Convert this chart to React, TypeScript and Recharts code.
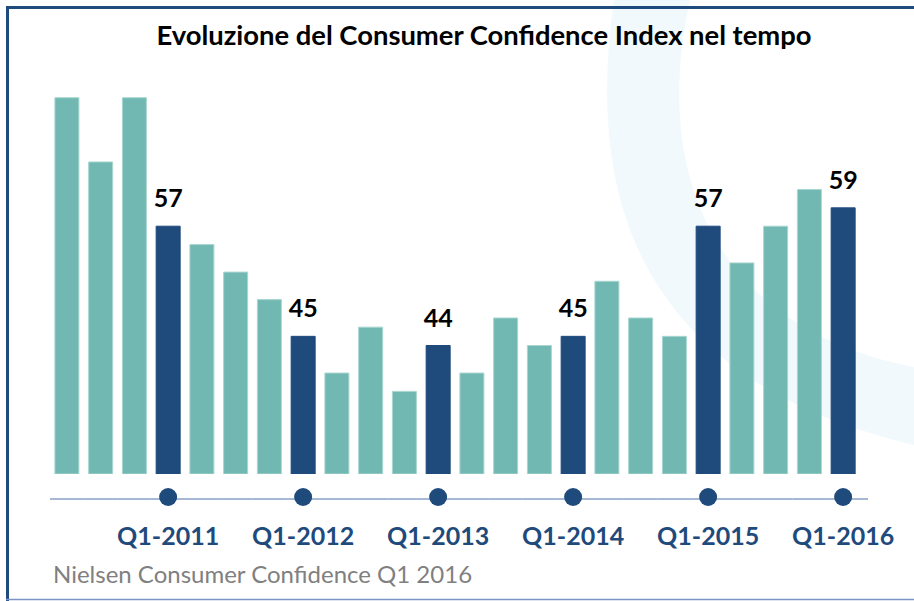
import React from "react";
import { BarChart, Bar, XAxis, YAxis, Cell, LabelList } from "recharts";

// trimestri da Q2-2010 a Q1-2016
const quarters = [
  "Q2-2010", "Q3-2010", "Q4-2010",
  "Q1-2011", "Q2-2011", "Q3-2011", "Q4-2011",
  "Q1-2012", "Q2-2012", "Q3-2012", "Q4-2012",
  "Q1-2013", "Q2-2013", "Q3-2013", "Q4-2013",
  "Q1-2014", "Q2-2014", "Q3-2014", "Q4-2014",
  "Q1-2015", "Q2-2015", "Q3-2015", "Q4-2015",
  "Q1-2016",
];

const cci = [
  71, 64, 71,
  57, 55, 52, 49,
  45, 41, 46, 39,
  44, 41, 47, 44,
  45, 51, 47, 45,
  57, 53, 57, 61,
  59,
];

const yDomain = [30, 75];

const TITLE = "Evoluzione del Consumer Confidence Index nel tempo";
const SOURCE = "Nielsen Consumer Confidence Q1 2016";

const DARK = "#1f4a7c";
const LIGHT = "#72b8b2";
const FONT = "Lato, 'Open Sans', sans-serif";

const W = 914;
const H = 601;
const LEFT = 50;
const RIGHT = 54;
const BAND = (W - LEFT - RIGHT) / quarters.length;

const data = quarters.map((q, i) => ({ q, value: cci[i] }));

const isQ1 = (q: string) => q.startsWith("Q1");

const QuarterTick = (props: any) => {
  const { x, y, payload, index } = props;
  const last = index === quarters.length - 1;
  return (
    <g>
      <line
        x1={x - BAND / 2}
        x2={x + BAND / 2 + (last ? 8 : 0)}
        y1={y + 25}
        y2={y + 25}
        stroke="#4f73a8"
        strokeWidth={1.2}
      />
      {isQ1(payload.value) && (
        <>
          <circle cx={x} cy={y + 23} r={9} fill={DARK} />
          <text
            x={x}
            y={y + 71}
            textAnchor="middle"
            fill={DARK}
            fontFamily={FONT}
            fontWeight={700}
            fontSize={25}
          >
            {payload.value}
          </text>
        </>
      )}
    </g>
  );
};

const ValueLabel = (props: any) => {
  const { x, y, width, value, index } = props;
  if (!isQ1(quarters[index])) return null;
  return (
    <text
      x={x + width / 2}
      y={y - 19}
      textAnchor="middle"
      fill="#000"
      fontFamily={FONT}
      fontWeight={700}
      fontSize={25}
    >
      {value}
    </text>
  );
};

export default function App() {
  return (
    <div style={{ position: "absolute", left: 0, top: 0, width: W, height: H, background: "#fff", overflow: "hidden" }}>
      <svg width={W} height={H} style={{ position: "absolute", left: 0, top: 0 }}>
        <path
          d="M 614 0 C 585 200, 640 380, 914 445 L 914 367 C 720 330, 650 180, 690 0 Z"
          fill="#f1f9fc"
        />
      </svg>
      <div style={{ position: "absolute", left: 0, top: 0 }}>
        <BarChart
          width={W}
          height={H}
          data={data}
          margin={{ top: 61, right: RIGHT, bottom: 0, left: LEFT }}
          barCategoryGap="14.5%"
        >
          <XAxis
            dataKey="q"
            interval={0}
            height={127}
            axisLine={false}
            tickLine={false}
            tickSize={0}
            tickMargin={0}
            tick={<QuarterTick />}
          />
          <YAxis hide domain={yDomain} allowDataOverflow />
          <Bar dataKey="value" isAnimationActive={false}>
            {data.map((d) => (
              <Cell
                key={d.q}
                fill={isQ1(d.q) ? DARK : LIGHT}
                stroke={isQ1(d.q) ? DARK : "#a9d6d1"}
                strokeWidth={1}
              />
            ))}
            <LabelList dataKey="value" content={<ValueLabel />} />
          </Bar>
        </BarChart>
      </div>
      <svg width={W} height={H} style={{ position: "absolute", left: 0, top: 0, pointerEvents: "none" }}>
        <text x={484} y={45} textAnchor="middle" fontFamily={FONT} fontWeight={700} fontSize={27.4} fill="#000">
          {TITLE}
        </text>
        <text x={53} y={583} fontFamily={FONT} fontSize={24} fill="#808080">
          {SOURCE}
        </text>
        <line x1={7.5} y1={7.5} x2={W} y2={7.5} stroke={DARK} strokeWidth={3} />
        <line x1={7.5} y1={6} x2={7.5} y2={H} stroke={DARK} strokeWidth={3} />
        <line x1={6} y1={599.5} x2={W} y2={599.5} stroke="#7b96c2" strokeWidth={1.5} />
      </svg>
    </div>
  );
}
